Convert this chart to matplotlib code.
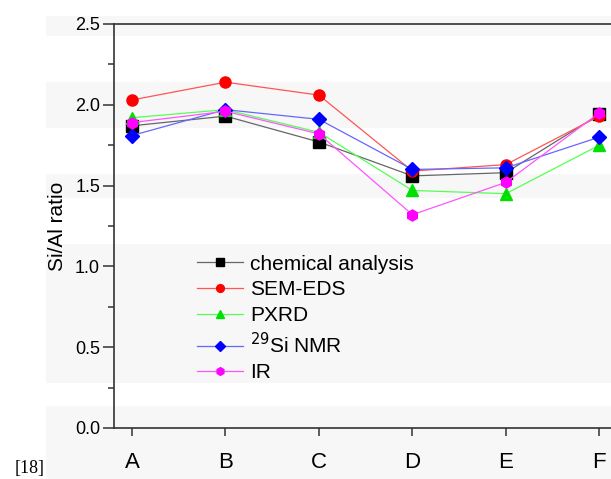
import numpy as np
import matplotlib.pyplot as plt
from matplotlib.patches import Rectangle
from matplotlib.ticker import MultipleLocator

plt.rcParams['font.family'] = ['Liberation Sans', 'DejaVu Sans']

samples = ['A', 'B', 'C', 'D', 'E', 'F']
chemical = [1.87, 1.93, 1.77, 1.56, 1.58, 1.94]
sem_eds = [2.03, 2.14, 2.06, 1.59, 1.63, 1.93]
pxrd = [1.92, 1.97, 1.83, 1.47, 1.45, 1.75]
nmr = [1.81, 1.97, 1.91, 1.60, 1.61, 1.80]
ir = [1.89, 1.96, 1.82, 1.32, 1.52, 1.95]

series = [
    ('chemical analysis', chemical, 's', '#000000', '#666666'),
    ('SEM-EDS', sem_eds, 'o', '#ff0000', '#ff5555'),
    ('PXRD', pxrd, '^', '#00e000', '#55ff55'),
    (r'$^{29}$Si NMR', nmr, 'D', '#0000ff', '#6666ff'),
    ('IR', ir, 'h', '#ff00ff', '#ff55ff'),
]

W, H = 611, 479
fig = plt.figure(figsize=(W / 100, H / 100), dpi=100)

# light grey page stripes behind the chart (pixel rows)
for y0, y1 in [(16, 36), (82, 128), (174, 198), (244, 383), (406, 479)]:
    fig.patches.append(Rectangle((46 / W, 1 - y1 / H), 1, (y1 - y0) / H,
                                 transform=fig.transFigure, color='#f7f7f7',
                                 zorder=-5, lw=0))

left, bottom = 114 / W, 1 - 428 / H
ax = fig.add_axes([left, bottom, 518 / W, (428 - 24) / H])
ax.patch.set_alpha(0)

x = np.arange(len(samples))
for name, vals, mk, mc, lc in series:
    ms = 7 if mk == 'D' else 8
    ax.plot(x, vals, color=lc, lw=0.9, marker=mk, markersize=ms,
            markerfacecolor=mc, markeredgecolor=mc, label=name)

ax.set_xlim(-0.193, 5.35)
ax.set_ylim(0, 2.5)
ax.set_xticks(x)
ax.set_xticklabels(samples, fontsize=16)
ax.yaxis.set_major_locator(MultipleLocator(0.5))
ax.yaxis.set_minor_locator(MultipleLocator(0.25))
ax.yaxis.set_major_formatter(plt.FormatStrFormatter('%.1f'))
ax.tick_params(axis='y', which='major', direction='out', length=8, width=1.1,
               labelsize=13, colors='#333333', labelcolor='black', pad=2)
ax.tick_params(axis='y', which='minor', direction='out', length=4, width=1.1,
               colors='#333333')
ax.tick_params(axis='x', direction='out', length=6, width=1.1, pad=11,
               colors='#333333', labelcolor='black')
for s in ax.spines.values():
    s.set_linewidth(1.2)
    s.set_color('#333333')

ax.set_ylabel('Si/Al ratio', fontsize=15)
ax.yaxis.set_label_coords(-0.09, 0.5)

ax.legend(loc='upper left', bbox_to_anchor=(0.14, 0.455), frameon=False,
          fontsize=15, handlelength=2.2, handletextpad=0.35, labelspacing=0.32,
          borderpad=0, markerscale=0.7)

fig.text(15 / W, 1 - 469 / H, '[18]', family='Liberation Serif', fontsize=13,
         va='center', ha='left')

fig.savefig('out.png', dpi=100)
